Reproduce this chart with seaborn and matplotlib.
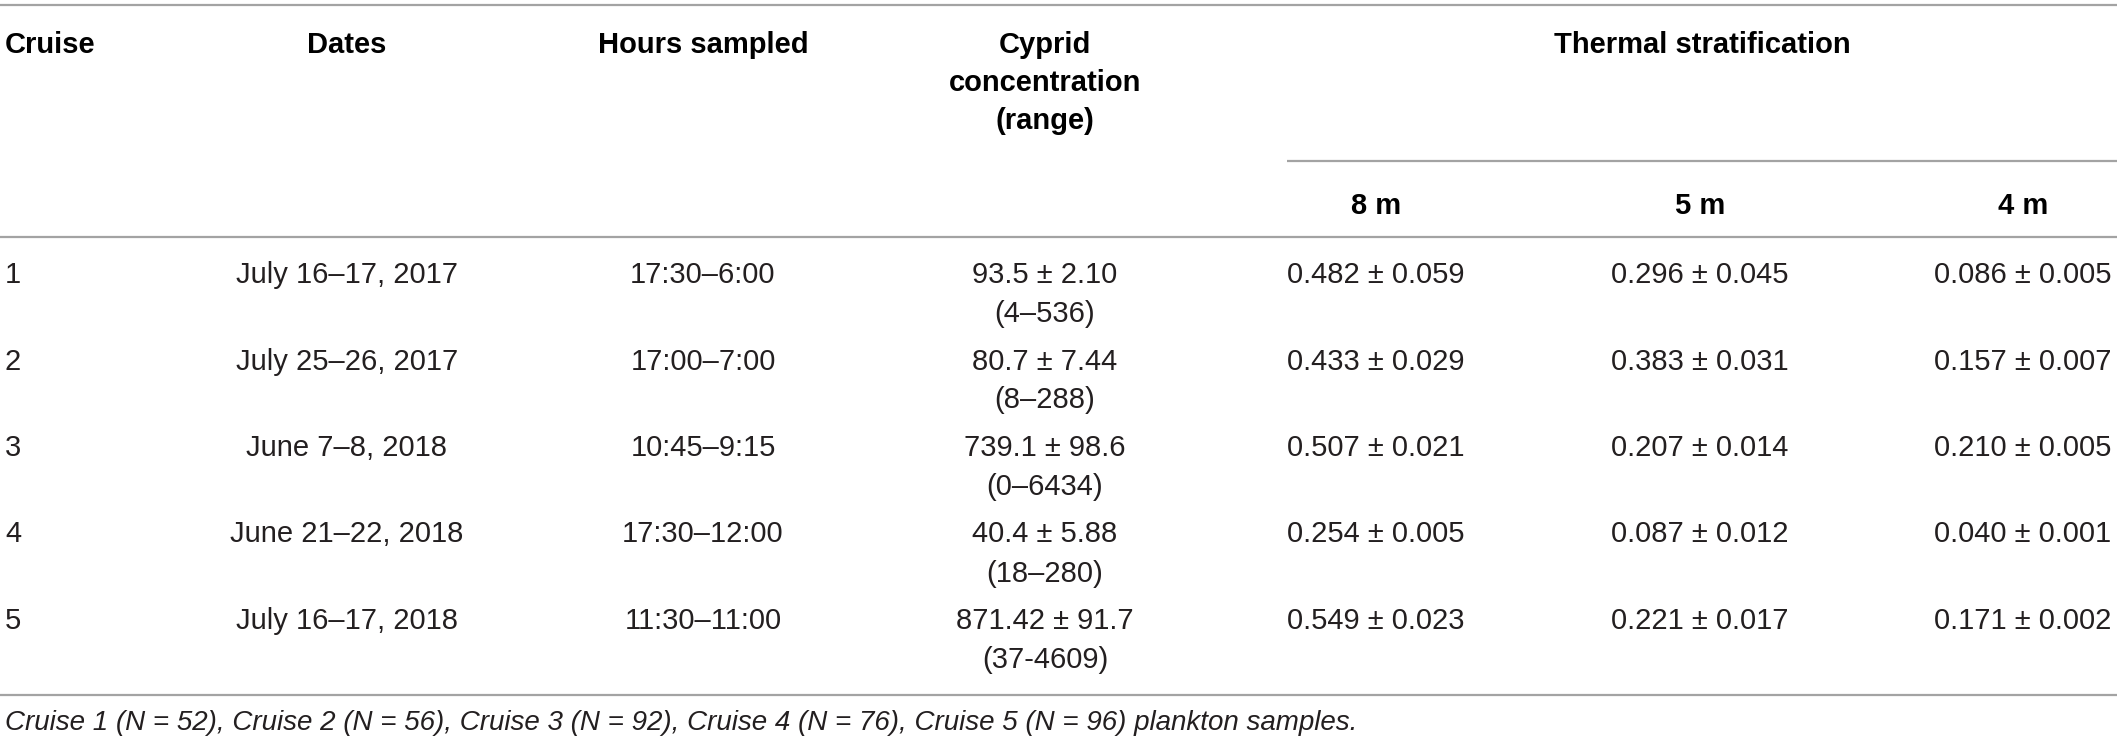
import matplotlib
matplotlib.use("Agg")
import matplotlib.pyplot as plt
import seaborn as sns

# --- DATOS DE LA TABLA ---
cruises = ["1", "2", "3", "4", "5"]
dates = ["July 16–17, 2017", "July 25–26, 2017", "June 7–8, 2018",
         "June 21–22, 2018", "July 16–17, 2018"]
hours = ["17:30–6:00", "17:00–7:00", "10:45–9:15", "17:30–12:00", "11:30–11:00"]
cyprid_mean = ["93.5", "80.7", "739.1", "40.4", "871.42"]
cyprid_se = ["2.10", "7.44", "98.6", "5.88", "91.7"]
cyprid_range = ["(4–536)", "(8–288)", "(0–6434)", "(18–280)", "(37-4609)"]
strat_8m = ["0.482", "0.433", "0.507", "0.254", "0.549"]
strat_8m_sd = ["0.059", "0.029", "0.021", "0.005", "0.023"]
strat_5m = ["0.296", "0.383", "0.207", "0.087", "0.221"]
strat_5m_sd = ["0.045", "0.031", "0.014", "0.012", "0.017"]
strat_4m = ["0.086", "0.157", "0.210", "0.040", "0.171"]
strat_4m_sd = ["0.005", "0.007", "0.005", "0.001", "0.002"]
depth_labels = ["8 m", "5 m", "4 m"]
footnote = ("Cruise 1 (N = 52), Cruise 2 (N = 56), Cruise 3 (N = 92), "
            "Cruise 4 (N = 76), Cruise 5 (N = 96) plankton samples.")

# --- ESTILO ---
sns.set_theme(style="white")
plt.rcParams['font.family'] = ['Liberation Sans', 'DejaVu Sans']

W, H = 2117, 743
fig = plt.figure(figsize=(W / 100, H / 100), dpi=100)
ax = fig.add_axes([0, 0, 1, 1])
ax.set_xlim(0, W)
ax.set_ylim(H, 0)
ax.axis("off")

fs = 21
txt_col = "#231f20"
line_col = "#a3a3a3"

# columnas (centros)
x_cruise = 5
x_dates = 347
x_hours = 703
x_cyprid = 1045
x_depth = [1376, 1700, 2023]

# --- LINEAS ---
ax.hlines([5, 237, 695], 0, W, colors=line_col, linewidth=1.6)
ax.hlines(161, 1287, W, colors=line_col, linewidth=1.6)

# --- CABECERA ---
hdr = dict(fontsize=fs, fontweight="bold", color="black", va="baseline")
ax.text(x_cruise, 53, "Cruise", ha="left", **hdr)
ax.text(x_dates, 53, "Dates", ha="center", **hdr)
ax.text(x_hours, 53, "Hours sampled", ha="center", **hdr)
ax.text(x_cyprid, 53, "Cyprid", ha="center", **hdr)
ax.text(x_cyprid, 91, "concentration", ha="center", **hdr)
ax.text(x_cyprid, 129, "(range)", ha="center", **hdr)
ax.text((1287 + W) / 2, 53, "Thermal stratification", ha="center", **hdr)
for xd, lab in zip(x_depth, depth_labels):
    ax.text(xd, 214, lab, ha="center", **hdr)

# --- FILAS ---
body = dict(fontsize=fs, color=txt_col, va="baseline")
strat = [(strat_8m, strat_8m_sd), (strat_5m, strat_5m_sd), (strat_4m, strat_4m_sd)]
for i in range(len(cruises)):
    yb = 283 + i * 86.5
    ax.text(x_cruise, yb, cruises[i], ha="left", **body)
    ax.text(x_dates, yb, dates[i], ha="center", **body)
    ax.text(x_hours, yb, hours[i], ha="center", **body)
    ax.text(x_cyprid, yb, f"{cyprid_mean[i]} ± {cyprid_se[i]}", ha="center", **body)
    ax.text(x_cyprid, yb + 39, cyprid_range[i], ha="center", **body)
    for xd, (m, sd) in zip(x_depth, strat):
        ax.text(xd, yb, f"{m[i]} ± {sd[i]}", ha="center", **body)

# --- NOTA AL PIE ---
ax.text(x_cruise, 730, footnote, ha="left", va="baseline", fontsize=20,
        style="italic", color=txt_col)

fig.savefig("out.png", dpi=100)
plt.close(fig)
